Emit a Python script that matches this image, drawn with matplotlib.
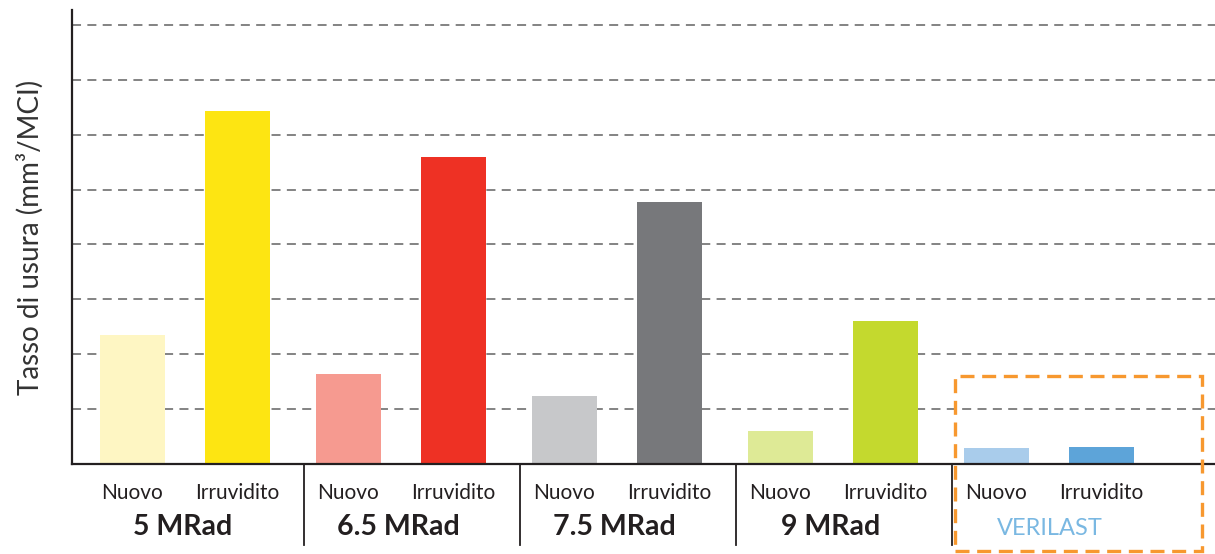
import matplotlib.pyplot as plt
from matplotlib.patches import Rectangle

# data
groups = ["5 MRad", "6.5 MRad", "7.5 MRad", "9 MRad", "VERILAST"]
nuovo = [2.35, 1.64, 1.24, 0.60, 0.29]
irruvidito = [6.43, 5.59, 4.77, 2.61, 0.31]
nuovo_colors = ["#FEF6C3", "#F69A90", "#C7C8CA", "#DEEA96", "#A9CCEB"]
irr_colors = ["#FDE512", "#EE3124", "#77787B", "#C4D92E", "#5DA4D9"]
sub_labels = ["Nuovo", "Irruvidito"]

plt.rcParams['font.family'] = ['Lato', 'DejaVu Sans']

fig = plt.figure(figsize=(12.15, 5.54), dpi=100)
ax = fig.add_axes([72/1215, 90/554, 1143/1215, 454/554])

off = 0.243
width = 0.301
x = list(range(len(groups)))
ax.bar([i - off for i in x], nuovo, width, color=nuovo_colors, zorder=2)
ax.bar([i + off for i in x], irruvidito, width, color=irr_colors, zorder=2)

ax.set_xlim(-0.523, 4.769)
ax.set_ylim(0, 8.27)
for v in range(1, 9):
    ax.axhline(v, color="#7a7a7a", lw=1.3, ls=(0, (5, 3.5)), zorder=1)

for s in ["top", "right"]:
    ax.spines[s].set_visible(False)
ax.spines["left"].set_linewidth(1.6)
ax.spines["bottom"].set_linewidth(1.6)
ax.spines["left"].set_color("#231F20")
ax.spines["bottom"].set_color("#231F20")
ax.set_xticks([])
ax.set_yticks([])

ax.set_ylabel("Tasso di usura (mm³/MCI)", fontsize=20, color="#333333",
              labelpad=20)

# labels below the axis
for i, g in enumerate(groups):
    ax.text(i - off, -0.52, sub_labels[0], ha="center", va="center",
            fontsize=15, color="#231F20")
    ax.text(i + off, -0.52, sub_labels[1], ha="center", va="center",
            fontsize=15, color="#231F20")
    if g == "VERILAST":
        ax.text(i + 0.005, -1.18, g, ha="center", va="center",
                fontsize=17, color="#7AB8E2")
    else:
        ax.text(i - 0.01, -1.15, g, ha="center", va="center",
                fontsize=20.5, fontweight="bold", color="#231F20")

# group separators
for i in range(4):
    ax.plot([i + 0.551, i + 0.551], [0, -1.47], color="#231F20", lw=1.3,
            clip_on=False)

# orange dashed frame round VERILAST
box = Rectangle((3.565, -1.58), 4.708 - 3.565, 1.6 + 1.58, fill=False,
                edgecolor="#F7982F", lw=2.4, ls=(0, (4.2, 2.3)),
                clip_on=False, zorder=3)
ax.add_patch(box)

plt.savefig("out.png", dpi=100)
plt.close()
